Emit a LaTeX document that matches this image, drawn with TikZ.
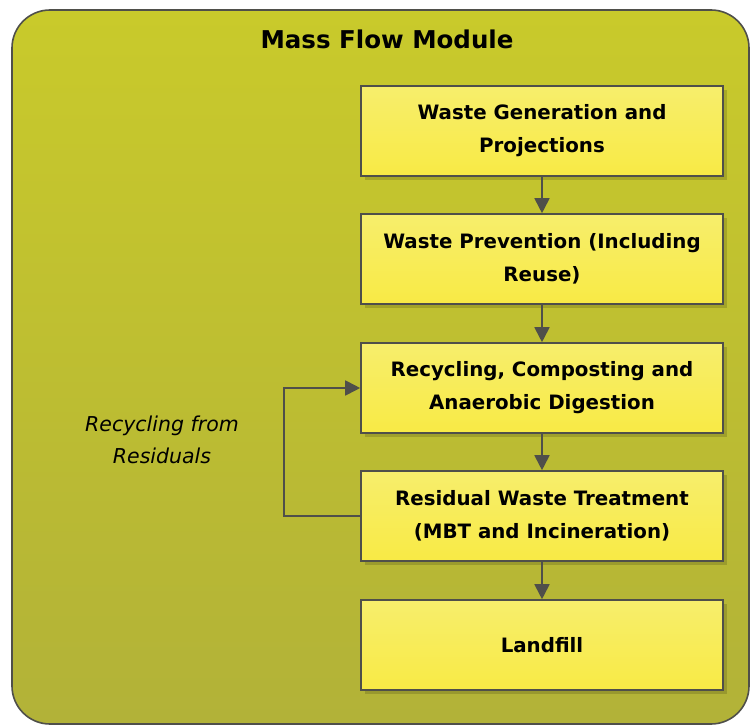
\documentclass[tikz,border=0pt]{standalone}
\usepackage{fontspec}
\setmainfont{DejaVu Sans}
\usetikzlibrary{arrows.meta,shadows}

\definecolor{frametop}{HTML}{C9CA2B}
\definecolor{framebot}{HTML}{B2B238}
\definecolor{boxtop}{HTML}{F7EE6C}
\definecolor{boxbot}{HTML}{F8EA45}
\definecolor{edge}{HTML}{4F4F4A}

\tikzset{
	stage/.style={draw=edge, line width=1.6pt, top color=boxtop, bottom color=boxbot,
		minimum width=362pt, minimum height=90pt, align=center,
		font=\bfseries\fontsize{19.8}{33}\selectfont,
		drop shadow={shadow xshift=4pt, shadow yshift=-4pt, fill=black, opacity=.15}},
	flow/.style={-{Triangle[length=15pt,width=15pt]}, draw=edge, line width=1.8pt}
}

\begin{document}
\begin{tikzpicture}[x=1pt, y=-1pt]
	\useasboundingbox (0, 0) rectangle (750, 725);
	\fill[white] (0, 0) rectangle (750, 725);

	\draw[edge, line width=1.6pt, rounded corners=38pt, top color=frametop, bottom color=framebot]
		(12, 10) rectangle (749, 724);
	\node (title) at (387, 39) {\bfseries\fontsize{24.5}{28}\selectfont Mass Flow Module};

	\node[stage] (gen) at (542, 131) {Waste Generation and\\Projections};
	\node[stage] (prev) at (542, 259) {Waste Prevention (Including\\Reuse)};
	\node[stage] (recyc) at (542, 388) {Recycling, Composting and\\Anaerobic Digestion};
	\node[stage] (resid) at (542, 516) {Residual Waste Treatment\\(MBT and Incineration)};
	\node[stage] (land) at (542, 645) {Landfill};

	\foreach \a/\b in {gen/prev, prev/recyc, recyc/resid, resid/land} {
		\draw[flow] (\a) -- (\b);
	}

	\draw[flow] (resid.west) -- ++(-76, 0) |- (recyc.west);
	\node[align=center, font=\itshape\fontsize{20.5}{32}\selectfont] (loop) at (162, 440)
		{Recycling from\\Residuals};
\end{tikzpicture}
\end{document}
